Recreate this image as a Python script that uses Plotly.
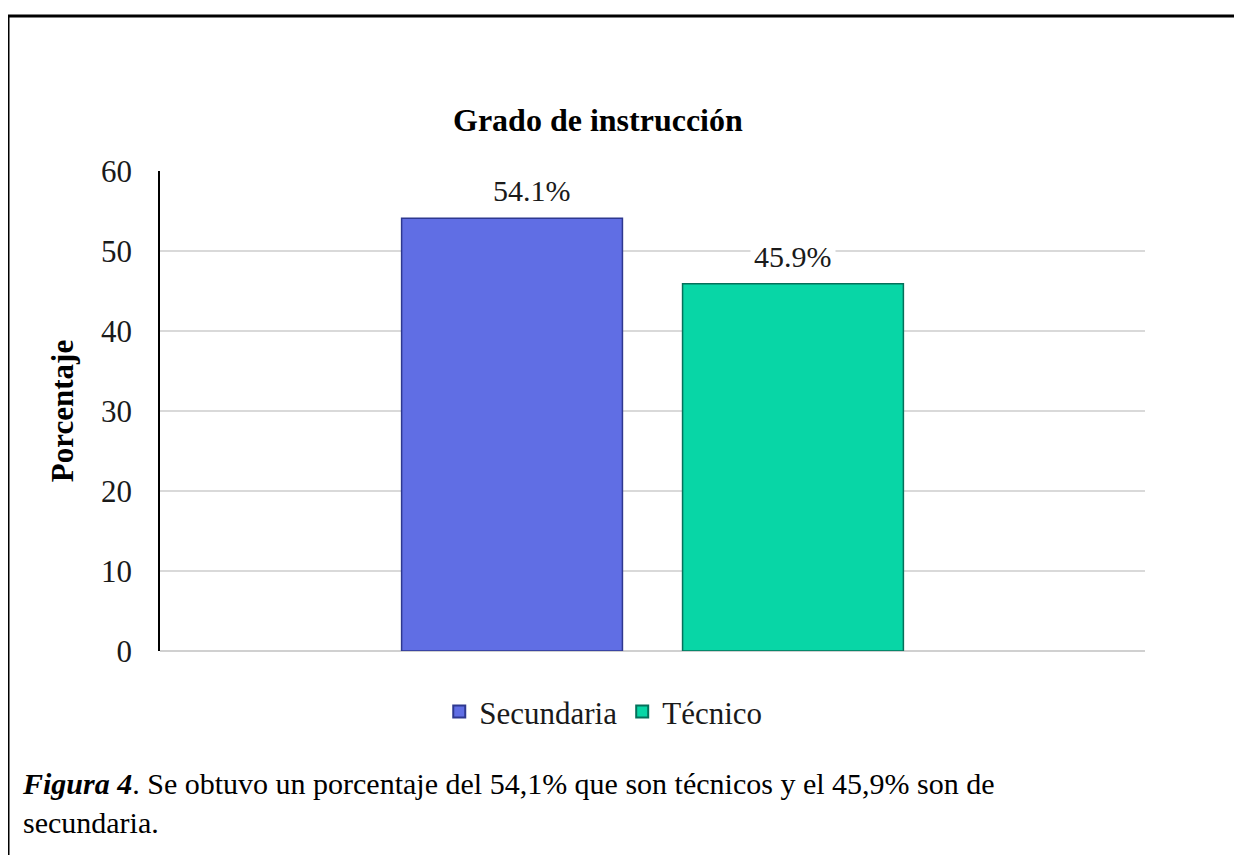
import plotly.graph_objects as go

categories = ["Secundaria", "Técnico"]
values = [54.1, 45.9]
labels = ["54.1%", "45.9%"]
colors = ["#606EE4", "#08D6A6"]
edge_colors = ["#2E3890", "#05705A"]
y_ticks = [0, 10, 20, 30, 40, 50, 60]

FONT = "Liberation Serif, Times New Roman, serif"
label_xshift = {"Secundaria": 20}  # style: the reference label sits slightly right of its bar

fig = go.Figure()
for cat, val, lab, col, ec in zip(categories, values, labels, colors, edge_colors):
    fig.add_trace(go.Bar(
        x=[cat], y=[val], name=cat,
        marker=dict(color=col, line=dict(color=ec, width=1.5)),
        width=0.786,
    ))
    fig.add_annotation(
        x=cat, y=val, text=lab,
        showarrow=False, yanchor="bottom", yshift=7,
        xshift=label_xshift.get(cat, 0),
        bgcolor="white", borderpad=3,
        font=dict(family=FONT, size=30, color="#1a1a1a"),
    )

fig.update_layout(
    width=1242, height=855,
    margin=dict(l=152, r=105, t=163, b=212),
    paper_bgcolor="white", plot_bgcolor="white",
    showlegend=True,
    legend=dict(orientation="h", x=0.45, xanchor="center", y=-0.127, yanchor="middle",
                font=dict(family=FONT, size=31, color="#1a1a1a"),
                itemsizing="constant", traceorder="normal"),
    bargap=0.214,
    xaxis=dict(type="category", range=[-1.253, 2.253], showticklabels=False,
               showgrid=False, showline=False, zeroline=False, fixedrange=True),
    yaxis=dict(range=[0, 60], tickvals=y_ticks, showgrid=True, gridcolor="#d9d9d9",
               gridwidth=1.5, showline=True, linecolor="black", linewidth=1.5,
               zeroline=True, zerolinecolor="#d0d0d0", zerolinewidth=2,
               tickfont=dict(family=FONT, size=31, color="#1a1a1a"),
               ticklabelstandoff=20,
               title=dict(text="<b>Porcentaje</b>", standoff=18,
                          font=dict(family=FONT, size=31, color="black"))),
)

# Title
fig.add_annotation(text="<b>Grado de instrucción</b>", xref="paper", yref="paper",
                   x=0.445, y=1.106, showarrow=False, xanchor="center", yanchor="middle",
                   font=dict(family=FONT, size=32, color="black"))

# Caption
fig.add_annotation(
    text="<b><i>Figura 4</i></b>. Se obtuvo un porcentaje del 54,1% que son técnicos y el 45,9% son de<br>secundaria.",
    xref="paper", yref="paper", x=-0.142, y=-0.316, xanchor="left", yanchor="middle",
    align="left", showarrow=False,
    font=dict(family=FONT, size=30, color="black"))

# Frame border
fig.add_shape(type="rect", xref="paper", yref="paper",
              x0=-0.1543, x1=1.12, y0=-0.6, y1=1.3229,
              line=dict(color="black", width=3), fillcolor="rgba(0,0,0,0)", layer="above")

fig.write_html("out.html")
